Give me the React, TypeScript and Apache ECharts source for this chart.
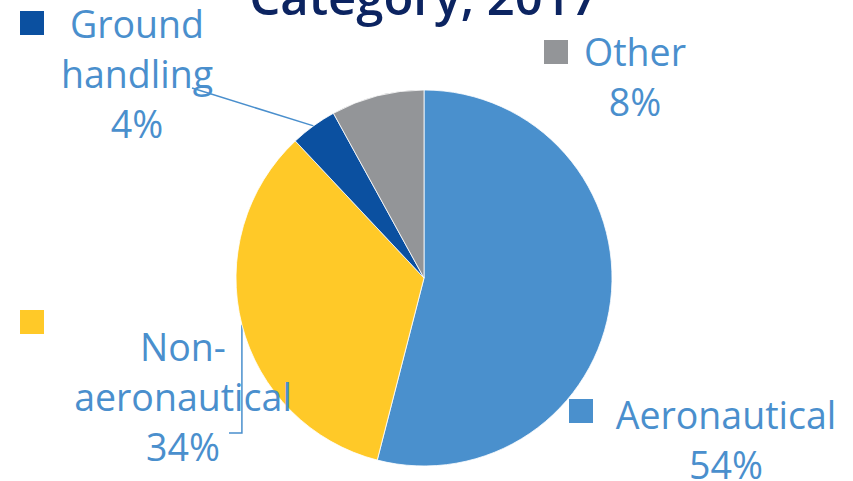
import React, { useEffect, useRef } from "react";
import * as echarts from "echarts";

const categories = ["Aeronautical", "Non-aeronautical", "Ground handling", "Other"];
const labelTexts = ["Aeronautical", "Non-\naeronautical", "Ground\nhandling", "Other"];
const shares = [54, 34, 4, 8];
const colors = ["#4A90CD", "#FFC928", "#0B50A0", "#939598"];
const titleText = "Category, 2017";

export default function App() {
  const ref = useRef<HTMLDivElement>(null);
  useEffect(() => {
    const chart = echarts.init(ref.current!, null, { renderer: "svg" });
    const labelPos = [
      [726, 439],
      [183, 396],
      [137, 73],
      [635, 76],
    ];
    const keyPos = [
      [569, 399],
      [20, 310],
      [20, 11],
      [544, 40],
    ];
    const labelColor = "#4A8FCD";
    chart.setOption({
      animation: false,
      backgroundColor: "#ffffff",
      graphic: [
        {
          type: "text",
          x: 424,
          y: -4,
          style: {
            text: titleText,
            fontSize: 49,
            fontWeight: 600,
            fontFamily: "Open Sans",
            fill: "#0C2461",
            align: "center",
            verticalAlign: "middle",
            textAlign: "center",
            textVerticalAlign: "middle",
          },
        },
        ...keyPos.map((p, i) => ({
          type: "rect",
          shape: { x: p[0], y: p[1], width: 24, height: 24 },
          style: { fill: colors[i] },
        })),
      ],
      series: [
        {
          type: "pie",
          center: [424, 278],
          radius: 188,
          startAngle: 90,
          clockwise: true,
          avoidLabelOverlap: false,
          itemStyle: { borderColor: "#ffffff", borderWidth: 0.8 },
          label: {
            show: true,
            position: "outside",
            color: labelColor,
            fontFamily: "Open Sans",
            fontSize: 37.5,
            lineHeight: 50,
            formatter: (p: any) => labelTexts[p.dataIndex] + "\n" + Math.round(p.value) + "%",
          },
          labelLine: {
            show: true,
            lineStyle: { color: labelColor, width: 1.5 },
          },
          labelLayout: (params: any) => {
            const i = params.dataIndex;
            const p = labelPos[i];
            const out: any = { x: p[0], y: p[1], align: "center", verticalAlign: "middle" };
            const pts = params.labelLinePoints;
            if (pts && pts.length) {
              const s = pts[0];
              if (i === 2) out.labelLinePoints = [s, [192, 88]];
              if (i === 1) out.labelLinePoints = [s, [s[0], 433], [229, 433]];
            }
            return out;
          },
          data: categories.map((name, i) => ({
            name,
            value: shares[i],
            itemStyle: { color: colors[i] },
            labelLine: { show: i === 1 || i === 2 },
          })),
        },
      ],
    });
    return () => chart.dispose();
  }, []);
  return (
    <div
      ref={ref}
      style={{ position: "absolute", left: 0, top: 0, width: 853, height: 481 }}
    />
  );
}
